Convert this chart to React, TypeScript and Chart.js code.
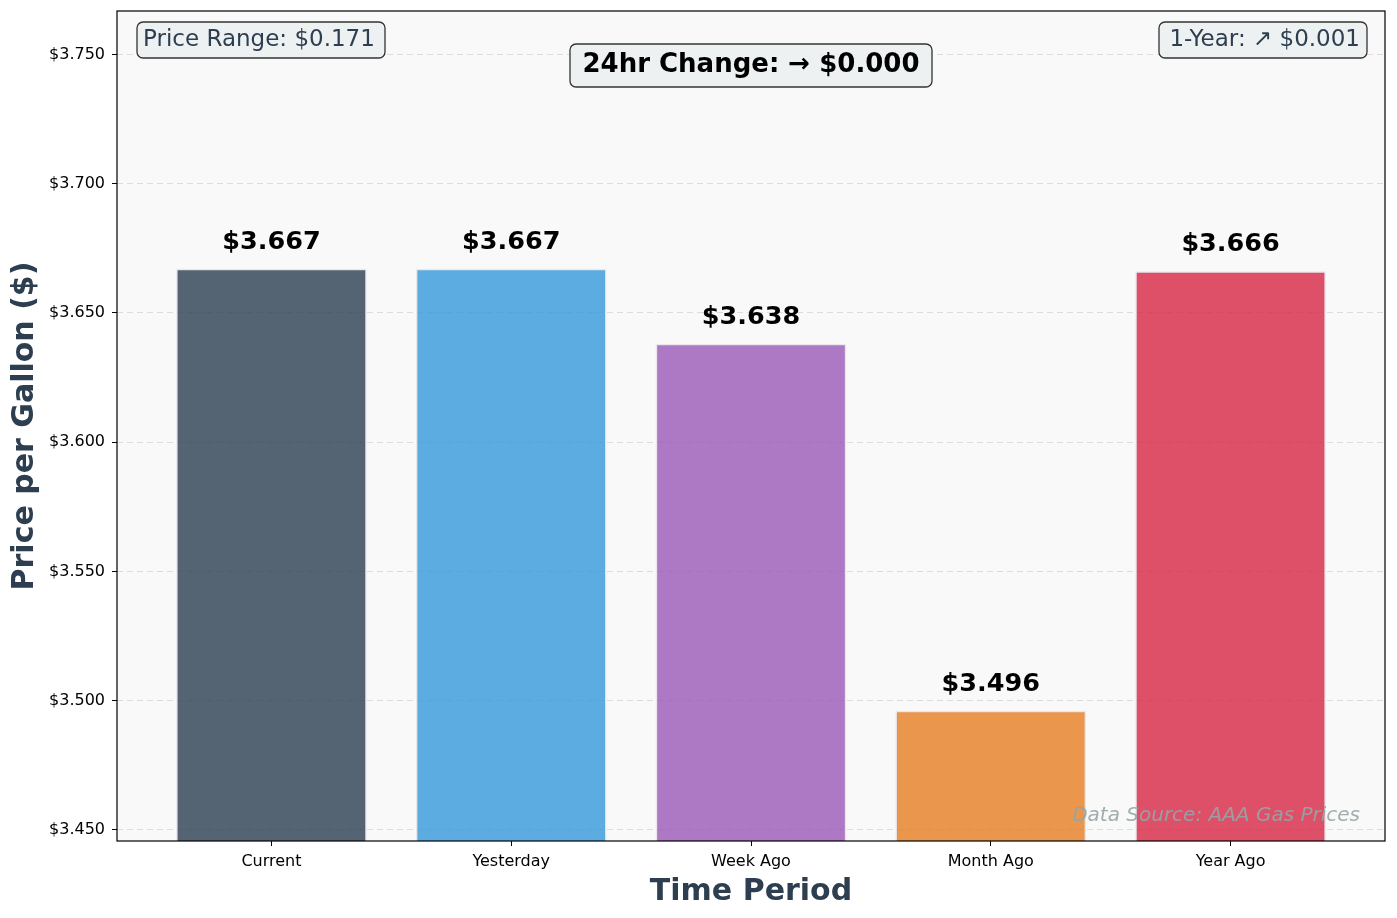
import React, { useEffect, useRef } from "react";
import { Chart, registerables, Plugin } from "chart.js";

Chart.register(...registerables);

// Datos del gráfico
const categories = ["Current", "Yesterday", "Week Ago", "Month Ago", "Year Ago"];
const prices = [3.667, 3.667, 3.638, 3.496, 3.666];
const yTicks = [3.45, 3.5, 3.55, 3.6, 3.65, 3.7, 3.75];
const barColors = [
  "rgba(44, 62, 80, 0.8)", // slate
  "rgba(52, 152, 219, 0.8)", // blue
  "rgba(155, 89, 182, 0.8)", // purple
  "rgba(230, 126, 34, 0.8)", // orange
  "rgba(215, 38, 68, 0.8)", // red
];
const rangeText = "Price Range: $0.171";
const dayChangeText = "24hr Change: → $0.000";
const yearChangeText = "1-Year: ↗ $0.001";
const sourceText = "Data Source: AAA Gas Prices";

const FONT = "'DejaVu Sans', sans-serif";

const drawBox = (
  ctx: CanvasRenderingContext2D,
  x: number,
  y: number,
  w: number,
  h: number
) => {
  ctx.save();
  ctx.beginPath();
  ctx.roundRect(x, y, w, h, 6);
  ctx.fillStyle = "rgba(236, 240, 241, 0.9)";
  ctx.fill();
  ctx.lineWidth = 1.3;
  ctx.strokeStyle = "#333333";
  ctx.stroke();
  ctx.restore();
};

const decorPlugin: Plugin<"bar"> = {
  id: "decor",
  beforeDraw: (chart) => {
    const { ctx, chartArea: a } = chart;
    ctx.save();
    ctx.fillStyle = "#ffffff";
    ctx.fillRect(0, 0, chart.width, chart.height);
    ctx.fillStyle = "#f9f9f9";
    ctx.fillRect(a.left, a.top, a.right - a.left, a.bottom - a.top);
    ctx.restore();
  },
  afterDatasetsDraw: (chart) => {
    const { ctx, chartArea: a } = chart;
    const meta = chart.getDatasetMeta(0);

    // Etiquetas de valor sobre cada barra
    ctx.save();
    ctx.font = `bold 25.5px ${FONT}`;
    ctx.fillStyle = "#000000";
    ctx.textAlign = "center";
    ctx.textBaseline = "middle";
    meta.data.forEach((bar, i) => {
      ctx.fillText(`$${prices[i].toFixed(3)}`, bar.x, bar.y - 27);
    });

    // Fuente de datos
    ctx.font = `italic 20px ${FONT}`;
    ctx.fillStyle = "rgba(149, 165, 166, 0.9)";
    ctx.textAlign = "right";
    ctx.fillText(sourceText, a.right - 25, a.bottom - 25);

    // Cajas de anotación
    drawBox(ctx, a.left + 20, a.top + 11, 248, 36);
    ctx.font = `23px ${FONT}`;
    ctx.fillStyle = "#2c3e50";
    ctx.textAlign = "left";
    ctx.fillText(rangeText, a.left + 26, a.top + 29);

    drawBox(ctx, a.right - 226, a.top + 11, 208, 36);
    ctx.textAlign = "right";
    ctx.fillText(yearChangeText, a.right - 25, a.top + 29);

    const cx = (a.left + a.right) / 2;
    drawBox(ctx, cx - 181, a.top + 33, 362, 43);
    ctx.font = `bold 26px ${FONT}`;
    ctx.fillStyle = "#000000";
    ctx.textAlign = "center";
    ctx.fillText(dayChangeText, cx, a.top + 54);

    // Marco del área
    ctx.strokeStyle = "#000000";
    ctx.lineWidth = 1.2;
    ctx.strokeRect(a.left, a.top, a.right - a.left, a.bottom - a.top);
    ctx.restore();
  },
};

const App: React.FC = () => {
  const chartRef = useRef<HTMLCanvasElement>(null);
  const chartInstanceRef = useRef<Chart | null>(null);

  useEffect(() => {
    document.body.style.margin = "0";
    if (!chartRef.current) return;
    if (chartInstanceRef.current) {
      chartInstanceRef.current.destroy();
    }

    chartInstanceRef.current = new Chart(chartRef.current, {
      type: "bar",
      data: {
        datasets: [
          {
            data: prices.map((p, i) => ({ x: i, y: p })),
            backgroundColor: barColors,
            borderColor: "rgba(230, 230, 235, 0.9)",
            borderWidth: 1.5,
            barThickness: 190,
          },
        ],
      },
      options: {
        responsive: false,
        animation: false,
        devicePixelRatio: 1,
        layout: { padding: { top: 11, right: 12, left: 0, bottom: 0 } },
        plugins: {
          legend: { display: false },
          tooltip: { enabled: false },
        },
        scales: {
          x: {
            type: "linear",
            offset: false,
            min: -0.644,
            max: 4.644,
            afterBuildTicks: (scale) => {
              scale.ticks = categories.map((_, i) => ({ value: i }));
            },
            afterFit: (scale) => {
              scale.height = 77;
              scale.paddingLeft = 0;
              scale.paddingRight = 0;
            },
            border: { display: false },
            grid: {
              offset: false,
              drawOnChartArea: false,
              tickLength: 5,
              tickColor: "#000000",
              lineWidth: 1,
            },
            ticks: {
              autoSkip: false,
              maxRotation: 0,
              padding: 6,
              color: "#000000",
              font: { family: FONT, size: 16 },
              callback: (value) => categories[Number(value)] ?? "",
            },
            title: {
              display: true,
              text: "Time Period",
              color: "#2c3e50",
              font: { family: FONT, size: 30, weight: "bold" },
              padding: { top: 0, bottom: 8 },
            },
          },
          y: {
            min: 3.44574,
            max: 3.7668,
            afterBuildTicks: (scale) => {
              scale.ticks = yTicks.map((v) => ({ value: v }));
            },
            afterFit: (scale) => {
              scale.width = 117;
              scale.paddingTop = 0;
              scale.paddingBottom = 0;
            },
            border: { display: false, dash: [6, 4] },
            grid: {
              color: "rgba(170, 170, 170, 0.35)",
              lineWidth: 1,
              tickLength: 5,
              tickColor: "#000000",
              tickBorderDash: [],
            },
            ticks: {
              padding: 7,
              color: "#000000",
              font: { family: FONT, size: 16 },
              callback: (value) => `$${Number(value).toFixed(3)}`,
            },
            title: {
              display: true,
              text: "Price per Gallon ($)",
              color: "#2c3e50",
              font: { family: FONT, size: 30, weight: "bold" },
              padding: { top: 7, bottom: 0 },
            },
          },
        },
      },
      plugins: [decorPlugin],
    });

    return () => {
      if (chartInstanceRef.current) {
        chartInstanceRef.current.destroy();
        chartInstanceRef.current = null;
      }
    };
  }, []);

  return (
    <div style={{ width: 1397, height: 918 }}>
      <canvas ref={chartRef} width={1397} height={918} />
    </div>
  );
};

export default App;
